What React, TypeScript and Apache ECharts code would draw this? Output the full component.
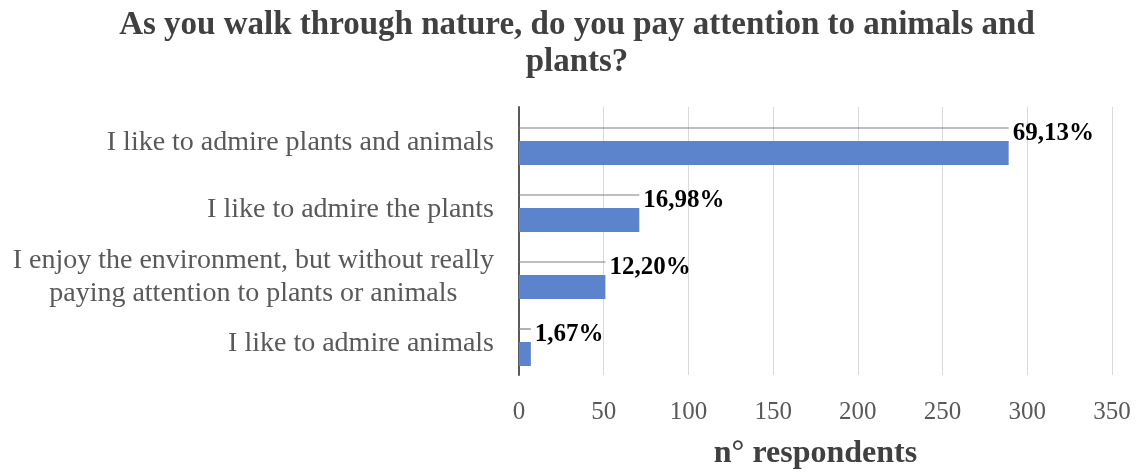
import React, { useEffect, useRef } from 'react';
import * as echarts from 'echarts';

const titleText = 'As you walk through nature, do you pay attention to animals and\nplants?';
const categories = [
  'I like to admire plants and animals',
  'I like to admire the plants',
  'I enjoy the environment, but without really\npaying attention to plants or animals',
  'I like to admire animals',
];
const respondents = [289, 71, 51, 7];
const percentLabels = ['69,13%', '16,98%', '12,20%', '1,67%'];
const xMin = 0;
const xMax = 350;
const xInterval = 50;
const axisName = 'n° respondents';

export default function App() {
  const ref = useRef<HTMLDivElement>(null);
  useEffect(() => {
    if (!ref.current) return;
    const chart = echarts.init(ref.current, null, { renderer: 'svg' });
    const serif = '"Liberation Serif", "Times New Roman", serif';
    chart.setOption({
      animation: false,
      textStyle: { fontFamily: serif },
      graphic: [
        {
          type: 'text',
          x: 577,
          y: 4,
          style: {
            text: titleText,
            textAlign: 'center',
            textVerticalAlign: 'top',
            font: `bold 33px ${serif}`,
            lineHeight: 37,
            fill: '#404040',
          },
        },
      ],
      grid: { left: 519, right: 27, top: 107, bottom: 95 },
      xAxis: {
        type: 'value',
        min: xMin,
        max: xMax,
        interval: xInterval,
        axisLine: { show: false },
        axisTick: { show: false },
        splitLine: { show: true, lineStyle: { color: '#d9d9d9', width: 1 } },
        axisLabel: { color: '#595959', fontSize: 25, margin: 23, fontFamily: serif },
        name: axisName,
        nameLocation: 'middle',
        nameGap: 60,
        nameTextStyle: { fontSize: 32, fontWeight: 'bold', color: '#404040', fontFamily: serif },
      },
      yAxis: {
        type: 'category',
        inverse: true,
        data: categories,
        axisLine: { show: true, lineStyle: { color: '#595959', width: 2 } },
        axisTick: { show: false },
        axisLabel: {
          margin: 25,
          color: '#595959',
          fontSize: 28,
          fontFamily: serif,
          formatter: (v: string) => v.split('\n').map((l) => `{c|${l}}`).join('\n'),
          rich: {
            c: { align: 'center', fontSize: 28, color: '#595959', fontFamily: serif, lineHeight: 33 },
          },
        },
      },
      series: [
        {
          type: 'bar',
          name: 'pct',
          data: respondents,
          barWidth: 24,
          barGap: '4%',
          silent: true,
          itemStyle: { color: 'rgba(0,0,0,0)' },
          label: {
            show: true,
            position: 'right',
            distance: 4,
            offset: [0, 3],
            formatter: (p: any) => percentLabels[p.dataIndex],
            fontSize: 25,
            fontWeight: 'bold',
            color: '#000',
            fontFamily: serif,
          },
        },
        {
          type: 'bar',
          name: 'n',
          data: respondents,
          barWidth: 24,
          barGap: '4%',
          itemStyle: { color: '#5B84CD' },
        },
        {
          type: 'custom',
          data: respondents.map((v, i) => [v, i]),
          encode: { x: 0, y: 1 },
          z: 3,
          renderItem: (params: any, api: any) => {
            const i = api.value(1);
            const s = api.coord([0, i]);
            const e = api.coord([api.value(0), i]);
            const y = s[1] - 12.5;
            return {
              type: 'line',
              shape: { x1: s[0], y1: y, x2: e[0], y2: y },
              style: { stroke: '#7f7f7f', lineWidth: 1.2 },
            };
          },
        },
      ],
    });
    return () => chart.dispose();
  }, []);
  return <div ref={ref} style={{ position: 'fixed', left: 0, top: 0, width: 1139, height: 472 }} />;
}
